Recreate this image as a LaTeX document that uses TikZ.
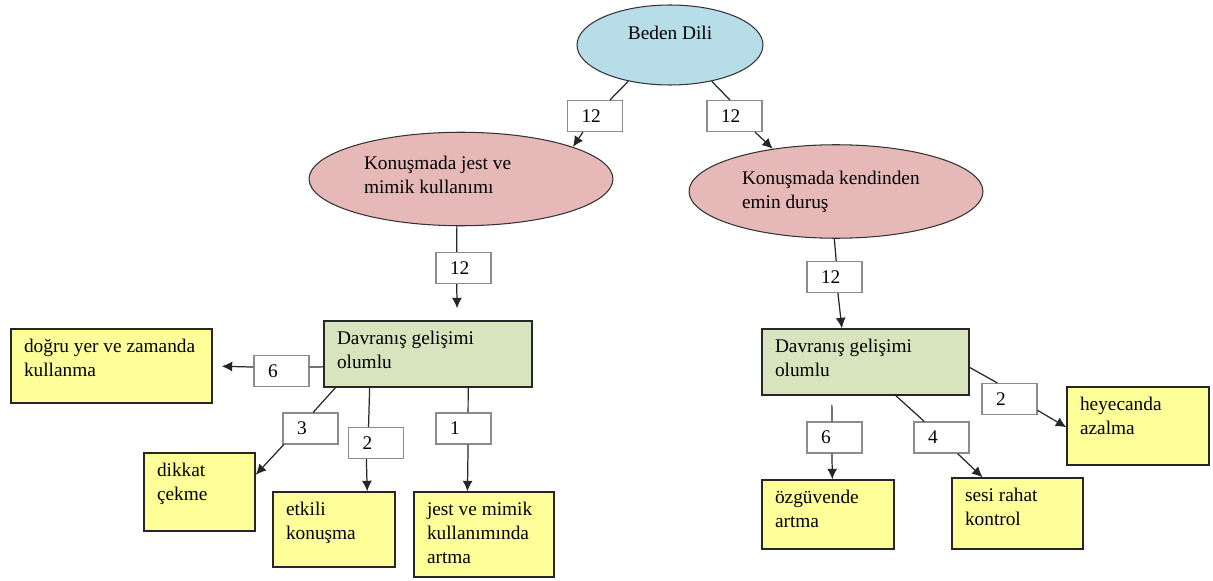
\documentclass[tikz,border=0pt]{standalone}
\usepackage{fontspec}
\setmainfont{Liberation Serif}
\usepackage{tikz}
\usetikzlibrary{arrows.meta}
\usetikzlibrary{shapes}

\definecolor{rootblue}{HTML}{B7DDE8}
\definecolor{topicpink}{HTML}{E6B9B8}
\definecolor{resultgreen}{HTML}{D7E4BD}
\definecolor{itemyellow}{HTML}{FFFF99}

% text placed at the top left of a box
\newcommand{\boxtext}[3]{\parbox[c][#2][t]{#1}{\raggedright #3}}

\tikzset{
    every node/.style={font=\fontsize{11}{13.6}\selectfont},
    rootnode/.style={ellipse, draw=black!80, line width=0.6pt, fill=rootblue, inner sep=0pt, minimum width=3.72cm, minimum height=1.6cm},
    topic/.style={ellipse, draw=black!80, line width=0.6pt, fill=topicpink, inner sep=0pt, minimum width=#1, minimum height=1.87cm},
    resultbox/.style={rectangle, draw=black!85, line width=0.8pt, fill=resultgreen, inner xsep=0.26cm, inner ysep=0.2cm},
    itembox/.style={rectangle, draw=black!85, line width=0.8pt, fill=itemyellow, inner xsep=0.26cm, inner ysep=0.2cm},
    countbox/.style={rectangle, draw=black!45, line width=0.6pt, fill=white, inner xsep=0.28cm, inner ysep=0pt, text width=0.54cm, align=left, minimum height=0.62cm},
    link/.style={draw=black!85, line width=0.7pt},
    flow/.style={link, -{Latex[length=0.21cm, width=0.2cm]}}
}

\begin{document}
\begin{tikzpicture}[x=0.02cm, y=-0.02cm]
    \useasboundingbox (0,0) rectangle (1213,581);

    % Define nodes
    \node[rootnode] (beden) at (670,45) {\raisebox{0.24cm}[\height][\depth]{Beden Dili}};
    \node[topic=6.08cm] (jestmimik) at (461,179) {\raisebox{0.08cm}[\height][\depth]{\parbox{3.88cm}{\raggedright Konuşmada jest ve\\ mimik kullanımı}}};
    \node[topic=5.88cm] (kendinden) at (836,191.5) {\parbox{3.76cm}{\raggedright Konuşmada kendinden\\ emin duruş}};

    \node[resultbox] (davranisL) at (428,354) {\boxtext{3.64cm}{0.92cm}{Davranış gelişimi\\ olumlu}};
    \node[resultbox] (davranisR) at (865.5,362) {\boxtext{3.62cm}{0.92cm}{Davranış gelişimi\\ olumlu}};

    \node[itembox] (dogru) at (111.5,366) {\boxtext{3.5cm}{1.08cm}{doğru yer ve zamanda\\ kullanma}};
    \node[itembox] (dikkat) at (199.5,492) {\boxtext{1.7cm}{1.16cm}{dikkat\\ çekme}};
    \node[itembox] (etkili) at (334,529.5) {\boxtext{1.92cm}{1.1cm}{etkili\\ konuşma}};
    \node[itembox] (artma) at (484,534.5) {\boxtext{2.28cm}{1.3cm}{jest ve mimik\\ kullanımında\\ artma}};
    \node[itembox] (ozguven) at (828,514.5) {\boxtext{2.12cm}{0.98cm}{özgüvende\\ artma}};
    \node[itembox] (sesi) at (1017.5,513.5) {\boxtext{2.1cm}{1.02cm}{sesi rahat\\ kontrol}};
    \node[itembox] (heyecan) at (1138,426) {\boxtext{2.32cm}{1.16cm}{heyecanda\\ azalma}};

    \node[countbox] (c1) at (595,116) {12};
    \node[countbox] (c2) at (734.5,116) {12};
    \node[countbox] (c3) at (463.5,268) {12};
    \node[countbox] (c4) at (834.5,277) {12};
    \node[countbox] (c5) at (281.5,371) {6};
    \node[countbox] (c6) at (310.5,428.5) {3};
    \node[countbox] (c7) at (376,443) {2};
    \node[countbox] (c8) at (463.5,428.5) {1};
    \node[countbox] (c9) at (834.5,437.5) {6};
    \node[countbox] (c10) at (941.5,437.5) {4};
    \node[countbox] (c11) at (1009.5,399) {2};

    % Connect nodes with arrows
    \draw[link] (beden.221) -- (c1.47);
    \draw[flow] (c1.233) -- (jestmimik.16);
    \draw[link] (beden.319) -- (c2.106);
    \draw[flow] (c2.322) -- (kendinden.146);

    \draw[link] (jestmimik.265) -- (c3.113);
    \draw[flow, shorten >=0.24cm] (c3.247) -- (davranisL.49);
    \draw[link] (kendinden.268) -- (c4.84);
    \draw[flow] (c4.282) -- (davranisR.125);

    \draw[link] (davranisL.187) -- (c5.8);
    \draw[flow, shorten >=0.18cm] (c5.172) -- (dogru.east);
    \draw[link] (davranisL.200) -- (c6.81);
    \draw[flow] (c6.211) -- (dikkat.17);
    \draw[link] (davranisL.210) -- (c7.115);
    \draw[flow] (c7.239) -- (etkili.49);
    \draw[link] (davranisL.320) -- (c8.74);
    \draw[flow] (c8.286) -- (artma.111);

    \draw[link, shorten <=0.18cm] (davranisR.225) -- (c9.99);
    \draw[flow] (c9.261) -- (ozguven.83);
    \draw[link] (davranisR.312) -- (c10.137);
    \draw[flow] (c10.315) -- (sesi.134);
    \draw[link] (davranisR.357) -- (c11.127);
    \draw[flow] (c11.338) -- (heyecan.181);
\end{tikzpicture}
\end{document}
